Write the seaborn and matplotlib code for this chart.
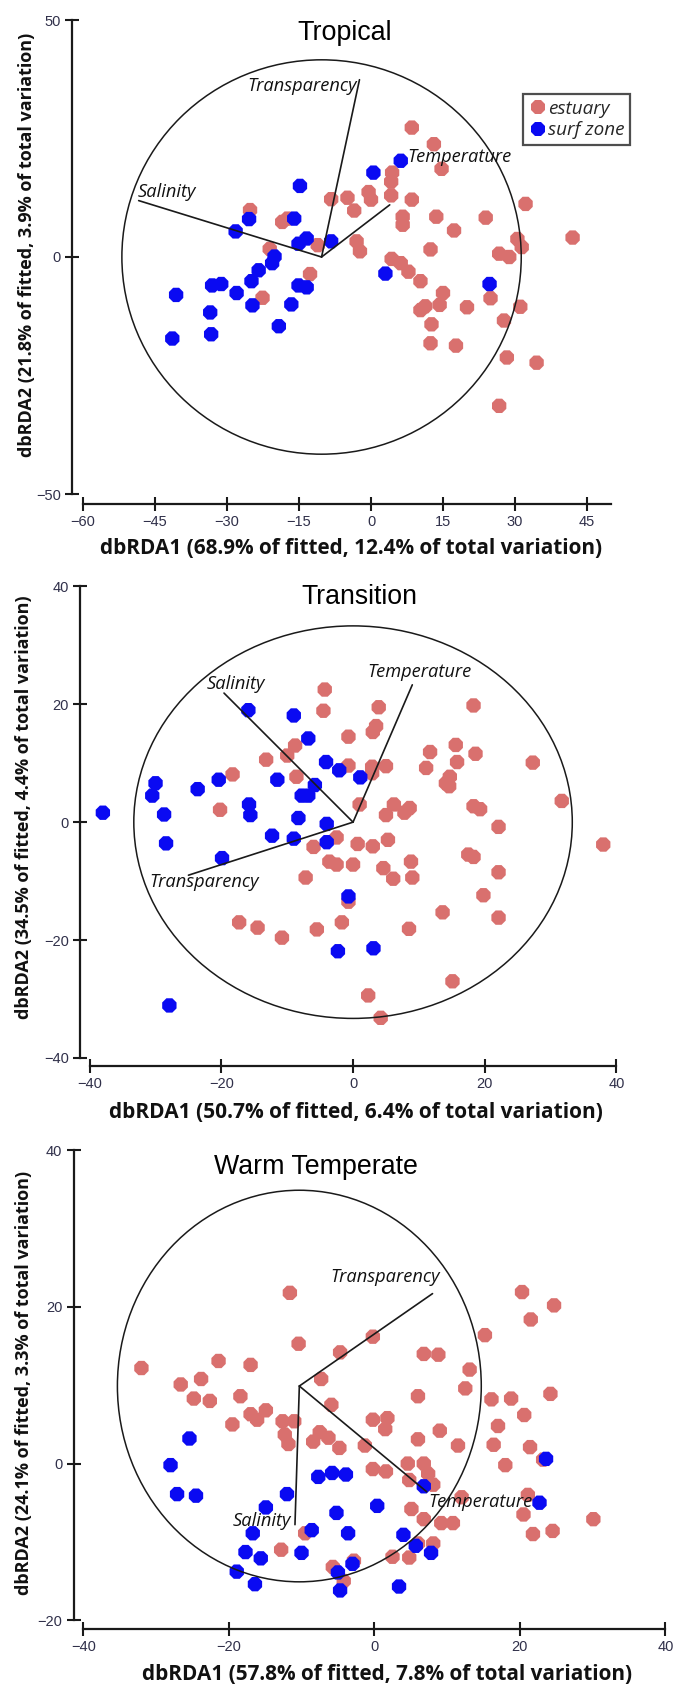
import matplotlib
matplotlib.use("Agg")
import matplotlib.pyplot as plt
import seaborn as sns
import pandas as pd
from matplotlib.patches import Circle

W, H = 683, 1684

# ---------------- data ----------------
groups = ["estuary", "surf zone"]
palette = {"estuary": "#D9706E", "surf zone": "#0A0AF2"}

# Tropical
trop_est_x = [8.5, 13.1, 14.7, 4.4, 4.2, -0.5, 0.0, 4.2, 8.5, -4.9, -8.3, -3.5, 6.6, 6.6, 13.6, 17.3,
              23.9, 32.2, 42.0, 30.5, 31.4, 26.7, 28.8, 12.4, -3.0, -2.3, -11.1, -21.1, -25.2, -18.5,
              -17.4, -12.7, -22.6, 4.3, 6.2, 7.8, 10.3, 15.0, 14.3, 11.3, 10.3, 20.0, 24.9, 31.1, 27.7,
              12.6, 12.4, 17.7, 28.3, 34.5, 26.7]
trop_est_y = [27.3, 23.8, 18.6, 17.8, 15.9, 13.7, 12.1, 13.0, 12.1, 12.5, 12.2, 9.8, 8.5, 6.8, 8.5, 5.6,
              8.3, 11.2, 4.1, 3.8, 2.1, 0.7, 0.0, 1.6, 3.3, 1.2, 2.5, 1.7, 9.9, 7.4,
              8.1, -3.6, -8.6, -0.4, -1.3, -3.1, -5.1, -7.6, -10.1, -10.4, -11.2, -10.6, -8.7, -10.5, -13.4,
              -14.2, -18.2, -18.7, -21.2, -22.3, -31.4]
trop_surf_x = [6.2, 0.5, -14.8, -25.4, -16.0, -28.2, -13.4, -15.1, -8.3, -20.1, -20.6, -23.4, -24.9,
               -33.1, -31.2, -28.0, -40.6, -24.7, -16.6, -15.1, -13.4, -33.5, -19.2, -33.3, -41.4, 3.0, 24.7]
trop_surf_y = [20.3, 17.8, 15.0, 8.0, 8.1, 5.4, 3.9, 2.8, 3.3, 0.1, -1.3, -2.8, -5.1,
               -6.0, -5.7, -7.6, -8.0, -10.2, -10.0, -6.0, -6.4, -11.7, -14.6, -16.3, -17.2, -3.5, -5.7]

# Transition
tran_est_x = [-4.3, -4.5, 3.9, 3.5, 3.0, -0.7, -8.8, -10.0, -13.2, -18.3, -8.6, -0.7, 2.9, 5.0, 2.9, 11.7,
              15.6, 18.3, 18.6, 15.8, 11.1, 27.3, 14.7, 14.1, 14.6, 31.7, 38.0, 18.3, 19.3, 22.1, 6.2, 8.6,
              7.8, 5.0, 1.0, -20.2, -2.5, -6.0, 0.7, 3.0, 5.3, 17.5, 18.3, -3.6, -2.5, 0.0, 4.6, 8.8, -7.2,
              6.1, 9.0, 22.1, 19.8, -0.7, 13.6, 22.1, -17.3, -14.5, -10.8, -5.5, -1.7, 8.5, 15.1, 2.3, 4.2]
tran_est_y = [22.5, 18.9, 19.5, 16.3, 15.3, 14.5, 13.0, 11.3, 10.6, 8.1, 7.7, 9.6, 9.4, 9.5, 8.3, 11.9,
              13.1, 19.8, 11.6, 10.2, 9.2, 10.1, 7.7, 6.6, 6.1, 3.6, -3.8, 2.7, 2.2, -0.8, 3.0, 2.4,
              1.6, 1.2, 3.0, 2.1, -2.6, -4.2, -3.7, -4.1, -3.0, -5.5, -5.9, -6.7, -7.2, -7.2, -7.8, -6.7, -9.4,
              -9.6, -9.4, -8.5, -12.4, -13.5, -15.3, -16.2, -17.0, -17.9, -19.6, -18.2, -17.0, -18.1, -27.0, -29.4, -33.2]
tran_surf_x = [-15.9, -9.0, -6.8, -4.1, -2.1, 1.1, -20.4, -11.5, -30.0, -23.6, -30.5, -5.8, -7.8, -6.8,
               -15.8, -15.6, -38.0, -28.7, -8.3, -4.0, -12.3, -9.0, -4.0, -28.4, -19.9, -0.7, -2.3, 3.1, -27.9]
tran_surf_y = [19.0, 18.1, 14.2, 10.2, 8.8, 7.6, 7.2, 7.2, 6.6, 5.6, 4.5, 6.3, 4.5, 4.5,
               3.0, 1.2, 1.6, 1.3, 0.7, -0.3, -2.3, -2.8, -3.4, -3.6, -6.1, -12.6, -21.9, -21.4, -31.1]

# Warm Temperate
warm_est_x = [-11.6, 20.3, 24.7, 21.5, 15.2, -0.2, -10.4, -4.7, 6.8, 8.8, -21.4, -17.0, -32.0, 13.1, -7.3,
              -23.8, -26.6, 12.5, 24.2, -24.8, -22.6, -18.4, 6.0, 16.1, 18.8, -5.9, -14.9, -17.0, -16.1, 20.6,
              -19.5, -12.6, -11.0, -0.2, 1.8, 1.5, 17.0, 9.0, -12.3, -7.5, -6.3, -11.8, -8.4, -4.8, -1.3, 6.0,
              11.5, 16.4, 21.4, 23.2, 4.6, 6.8, 18.0, 7.4, -0.2, 1.6, 4.8, 8.1, 12.0, 21.1, 5.1, 20.5, 30.1,
              6.8, 9.2, 10.8, 21.8, 24.5, -9.5, -12.8, 8.1, 6.0, 2.5, 4.8, -2.8, -5.7, -4.2]
warm_est_y = [21.8, 21.9, 20.2, 18.4, 16.4, 16.2, 15.3, 14.2, 14.0, 13.9, 13.1, 12.6, 12.2, 12.0, 10.8,
              10.8, 10.1, 9.6, 8.9, 8.3, 8.0, 8.6, 8.6, 8.2, 8.3, 7.5, 6.8, 6.3, 5.6, 6.2,
              5.0, 5.4, 5.4, 5.6, 5.8, 4.4, 4.8, 4.2, 3.7, 4.0, 3.3, 2.5, 2.8, 2.0, 2.3, 3.1,
              2.3, 2.4, 2.1, 0.5, 0.0, 0.0, -0.2, -1.3, -0.7, -1.0, -2.1, -2.7, -4.3, -4.0, -5.8, -6.5, -7.1,
              -7.1, -7.6, -7.6, -9.0, -8.6, -8.9, -11.0, -10.2, -10.2, -11.9, -12.0, -12.4, -13.2, -15.0]
warm_surf_x = [-25.4, -28.0, -27.1, -24.5, -7.7, -5.8, -3.9, -12.0, -14.9, -5.2, 0.4, 6.8, 22.7, 23.6,
               -16.7, -8.6, -3.6, 4.0, 5.7, 7.8, -17.7, -15.6, -10.0, -3.0, -18.9, -16.4, -5.0, -4.7, 3.4]
warm_surf_y = [3.2, -0.2, -3.9, -4.1, -1.7, -1.2, -1.4, -3.9, -5.6, -6.3, -5.4, -2.9, -5.0, 0.6,
               -8.9, -8.5, -8.9, -9.1, -10.5, -11.4, -11.3, -12.1, -11.4, -12.8, -13.8, -15.4, -13.9, -16.2, -15.7]

# environmental vectors (end points) and circle
trop_vec_names = ["Transparency", "Temperature", "Salinity"]
trop_vec_x = [-2.4, 3.9, -48.4]
trop_vec_y = [37.4, 11.0, 11.9]
trop_origin = (-10.3, 0.0)
trop_radius = 41.6

tran_vec_names = ["Salinity", "Temperature", "Transparency"]
tran_vec_x = [-19.6, 9.0, -25.0]
tran_vec_y = [21.9, 23.3, -9.0]
tran_origin = (0.0, 0.0)
tran_radius = 33.3

warm_vec_names = ["Transparency", "Temperature", "Salinity"]
warm_vec_x = [8.0, 7.2, -10.9]
warm_vec_y = [21.7, -3.6, -7.8]
warm_origin = (-10.3, 9.9)
warm_radius = 25.0

titles = ["Tropical", "Transition", "Warm Temperate"]
xlabels = ["dbRDA1 (68.9% of fitted, 12.4% of total variation)",
           "dbRDA1 (50.7% of fitted, 6.4% of total variation)",
           "dbRDA1 (57.8% of fitted, 7.8% of total variation)"]
ylabels = ["dbRDA2 (21.8% of fitted, 3.9% of total variation)",
           "dbRDA2 (34.5% of fitted, 4.4% of total variation)",
           "dbRDA2 (24.1% of fitted, 3.3% of total variation)"]

# ---------------- styling ----------------
sns.set_style("white")
plt.rcParams["font.family"] = ["Liberation Sans", "DejaVu Sans"]

fig = plt.figure(figsize=(W / 100, H / 100), dpi=100)
renderer = fig.canvas.get_renderer()


def fit(t, target):
    bb = t.get_window_extent(renderer)
    t.set_fontsize(t.get_fontsize() * target / bb.width)


def make_df(ex, ey, sx, sy):
    return pd.DataFrame({
        "x": list(ex) + list(sx),
        "y": list(ey) + list(sy),
        "group": [groups[0]] * len(ex) + [groups[1]] * len(sx),
    })


panels = [
    dict(df=make_df(trop_est_x, trop_est_y, trop_surf_x, trop_surf_y),
         box=(83, 611, 20, 494), xlim=(-60, 50), ylim=(-50, 50),
         xticks=[-60, -45, -30, -15, 0, 15, 30, 45], yticks=[-50, 0, 50], off=(11, 10),
         names=trop_vec_names, vx=trop_vec_x, vy=trop_vec_y, o=trop_origin, r=trop_radius,
         labpos=[(-3.0, 36.0, "right"), (7.6, 21.2, "left"), (-48.6, 13.7, "left")],
         title_c=(345, 33), title_w=95, xl_c=(351, 548), xl_w=503, yl_c=(27, 245)),
    dict(df=make_df(tran_est_x, tran_est_y, tran_surf_x, tran_surf_y),
         box=(89.7, 616.4, 586.4, 1057.9), xlim=(-40, 40), ylim=(-40, 40),
         xticks=[-40, -20, 0, 20, 40], yticks=[-40, -20, 0, 20, 40], off=(9.6, 8),
         names=tran_vec_names, vx=tran_vec_x, vy=tran_vec_y, o=tran_origin, r=tran_radius,
         labpos=[(-22.2, 23.5, "left"), (2.2, 25.4, "left"), (-31.0, -10.2, "left")],
         title_c=(359, 597), title_w=116, xl_c=(356, 1112), xl_w=493, yl_c=(24, 807)),
    dict(df=make_df(warm_est_x, warm_est_y, warm_surf_x, warm_surf_y),
         box=(83.2, 665.4, 1150.3, 1620.2), xlim=(-40, 40), ylim=(-20, 40),
         xticks=[-40, -20, 0, 20, 40], yticks=[-20, 0, 20, 40], off=(9.6, 8.6),
         names=warm_vec_names, vx=warm_vec_x, vy=warm_vec_y, o=warm_origin, r=warm_radius,
         labpos=[(9.0, 23.8, "right"), (7.4, -4.9, "left"), (-11.4, -7.3, "right")],
         title_c=(316, 1167), title_w=204, xl_c=(387, 1675), xl_w=490, yl_c=(24, 1383)),
]

line_col = "#1a1a1a"
italic_fs = None

for i, p in enumerate(panels):
    x0, x1, yt, yb = p["box"]
    ax = fig.add_axes([x0 / W, 1 - yb / H, (x1 - x0) / W, (yb - yt) / H])
    ax.set_facecolor("none")
    sns.scatterplot(data=p["df"], x="x", y="y", hue="group", hue_order=groups, palette=palette,
                    marker="8", s=125, linewidth=0, ax=ax, legend=(i == 0), clip_on=False, zorder=3)
    ax.set_xlim(*p["xlim"])
    ax.set_ylim(*p["ylim"])
    ax.set_xticks(p["xticks"])
    ax.set_yticks(p["yticks"])
    ax.set_xlabel("")
    ax.set_ylabel("")
    for s in ["top", "right"]:
        ax.spines[s].set_visible(False)
    ax.spines["left"].set_position(("outward", p["off"][0] * 0.72))
    ax.spines["bottom"].set_position(("outward", p["off"][1] * 0.72))
    for s in ["left", "bottom"]:
        ax.spines[s].set_linewidth(1.6)
        ax.spines[s].set_color(line_col)
    ax.tick_params(direction="inout", length=10, width=1.5, color=line_col,
                   labelsize=10.5, labelcolor="#30304a", pad=3, left=True, bottom=True)

    # circle
    ax.add_patch(Circle(p["o"], p["r"], fill=False, lw=1.1, ec=line_col, zorder=4))
    # vectors
    ox, oy = p["o"]
    for name, ex, ey, (lx, ly, ha) in zip(p["names"], p["vx"], p["vy"], p["labpos"]):
        ax.plot([ox, ex], [oy, ey], color=line_col, lw=1.2, zorder=5)
        t = ax.text(lx, ly, name, ha=ha, va="center", style="italic", fontsize=12,
                    family=["Open Sans", "DejaVu Sans"], color="#111111", zorder=6)
        if italic_fs is None and name == "Transparency":
            fit(t, 109)
            italic_fs = t.get_fontsize()
        t.set_fontsize(italic_fs if italic_fs else 12)

    # title
    t = fig.text(p["title_c"][0] / W, 1 - p["title_c"][1] / H, titles[i], ha="center", va="center",
                 fontsize=17, color="black")
    fit(t, p["title_w"])
    # axis labels
    t = fig.text(p["xl_c"][0] / W, 1 - p["xl_c"][1] / H, xlabels[i], ha="center", va="center",
                 fontsize=12, fontweight="bold", family=["Open Sans", "DejaVu Sans"], color="#111111")
    fit(t, p["xl_w"])
    t = fig.text(p["yl_c"][0] / W, 1 - p["yl_c"][1] / H, ylabels[i], ha="center", va="center",
                 rotation=90, fontsize=11, fontweight="bold", family=["Open Sans", "DejaVu Sans"],
                 color="#111111")
    bb = t.get_window_extent(renderer)
    t.set_fontsize(t.get_fontsize() * 427 / bb.height)

    if i == 0:
        handles, labels = ax.get_legend_handles_labels()
        ax.get_legend().remove()
        leg = fig.legend(handles, labels, loc="upper left",
                         bbox_to_anchor=(523 / W, 1 - 94 / H), bbox_transform=fig.transFigure,
                         frameon=True, fancybox=False, borderpad=0.3, handletextpad=0.0,
                         handlelength=1.0, labelspacing=0.2, borderaxespad=0,
                         prop={"style": "italic", "size": italic_fs + 0.5,
                               "family": ["Open Sans", "DejaVu Sans"]})
        leg.get_frame().set_edgecolor("#222222")
        leg.get_frame().set_linewidth(1.6)
        for h in leg.legend_handles:
            try:
                h.set_markersize(11)
            except AttributeError:
                h.set_sizes([125])

fig.savefig("out.png", dpi=100)
